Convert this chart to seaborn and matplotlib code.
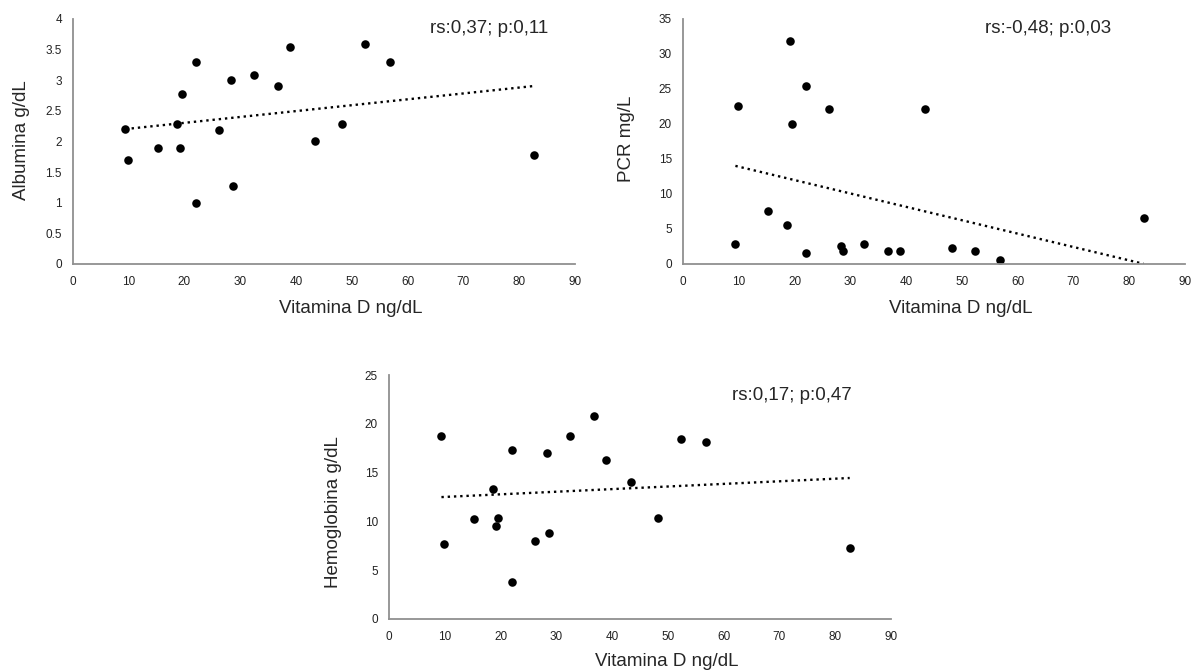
import numpy as np
import pandas as pd
import matplotlib
matplotlib.use('Agg')
import matplotlib.pyplot as plt
import seaborn as sns

# Vitamina D (ng/dL) of each patient
vit_d = [9.4, 9.9, 15.2, 18.6, 19.2, 19.6, 22.1, 22.1, 26.2, 28.3,
         28.7, 32.5, 36.8, 38.9, 43.4, 48.3, 52.3, 56.9, 82.6]

albumina = [2.2, 1.7, 1.9, 2.28, 1.9, 2.78, 3.29, 1.0, 2.19, 3.0,
            1.28, 3.09, 2.9, 3.55, 2.0, 2.28, 3.59, 3.29, 1.78]

pcr = [2.8, 22.5, 7.5, 5.6, 31.9, 20.0, 25.4, 1.6, 22.2, 2.5,
       1.8, 2.8, 1.8, 1.8, 22.2, 2.3, 1.8, 0.6, 6.5]

hemoglobina = [18.8, 7.7, 10.2, 13.3, 9.5, 10.4, 17.3, 3.8, 8.0, 17.0,
               8.8, 18.8, 20.8, 16.3, 14.0, 10.4, 18.4, 18.1, 7.3]

panels = [
    # (values, ylabel, annotation, ymax, ystep)
    (albumina, 'Albumina g/dL', 'rs:0,37; p:0,11', 4, 0.5),
    (pcr, 'PCR mg/L', 'rs:-0,48; p:0,03', 35, 5),
    (hemoglobina, 'Hemoglobina g/dL', 'rs:0,17; p:0,47', 25, 5),
]

sns.set_style('white')
plt.rcParams['font.family'] = ['Liberation Sans', 'DejaVu Sans']

fig = plt.figure(figsize=(11.94, 6.71), dpi=100)
axes = [
    fig.add_axes([0.0611, 0.6066, 0.4204, 0.3651]),
    fig.add_axes([0.572, 0.6066, 0.4204, 0.3651]),
    fig.add_axes([0.3258, 0.0775, 0.4204, 0.3636]),
]
# annotation position (axes coords) and label positions per panel
text_pos = [(0.946, 0.962), (0.852, 0.962), (0.921, 0.918)]
xlab_pos = [(0.553, -0.147), (0.553, -0.147), (0.553, -0.14)]
ylab_pos = [(-0.086, 0.505), (-0.096, 0.51), (-0.094, 0.44)]

for i, (ax, (vals, ylab, note, ymax, ystep)) in enumerate(zip(axes, panels)):
    df = pd.DataFrame({'vit_d': vit_d, 'y': vals})
    sns.regplot(data=df, x='vit_d', y='y', ax=ax, ci=None,
                scatter_kws={'s': 38, 'color': 'black', 'alpha': 1, 'linewidths': 0},
                line_kws={'color': 'black', 'linestyle': ':', 'linewidth': 1.7})
    ax.set_xlim(0, 90)
    ax.set_ylim(0, ymax)
    ax.set_xticks(np.arange(0, 91, 10))
    yt = np.arange(0, ymax + ystep / 2, ystep)
    ax.set_yticks(yt)
    ax.set_yticklabels([f'{t:g}' for t in yt])
    ax.tick_params(axis='both', length=0, labelsize=8.5, colors='#222222')
    ax.tick_params(axis='x', pad=9)
    ax.tick_params(axis='y', pad=8)
    for side in ['top', 'right']:
        ax.spines[side].set_visible(False)
    for side in ['left', 'bottom']:
        ax.spines[side].set_color('#909090')
        ax.spines[side].set_linewidth(1.3)
    ax.set_xlabel('Vitamina D ng/dL', fontsize=13.5)
    ax.set_ylabel(ylab, fontsize=13.5)
    ax.xaxis.set_label_coords(*xlab_pos[i])
    ax.yaxis.set_label_coords(*ylab_pos[i])
    ax.text(text_pos[i][0], text_pos[i][1], note, transform=ax.transAxes,
            ha='right', va='center', fontsize=13.5)

fig.savefig('out.png', dpi=100)
